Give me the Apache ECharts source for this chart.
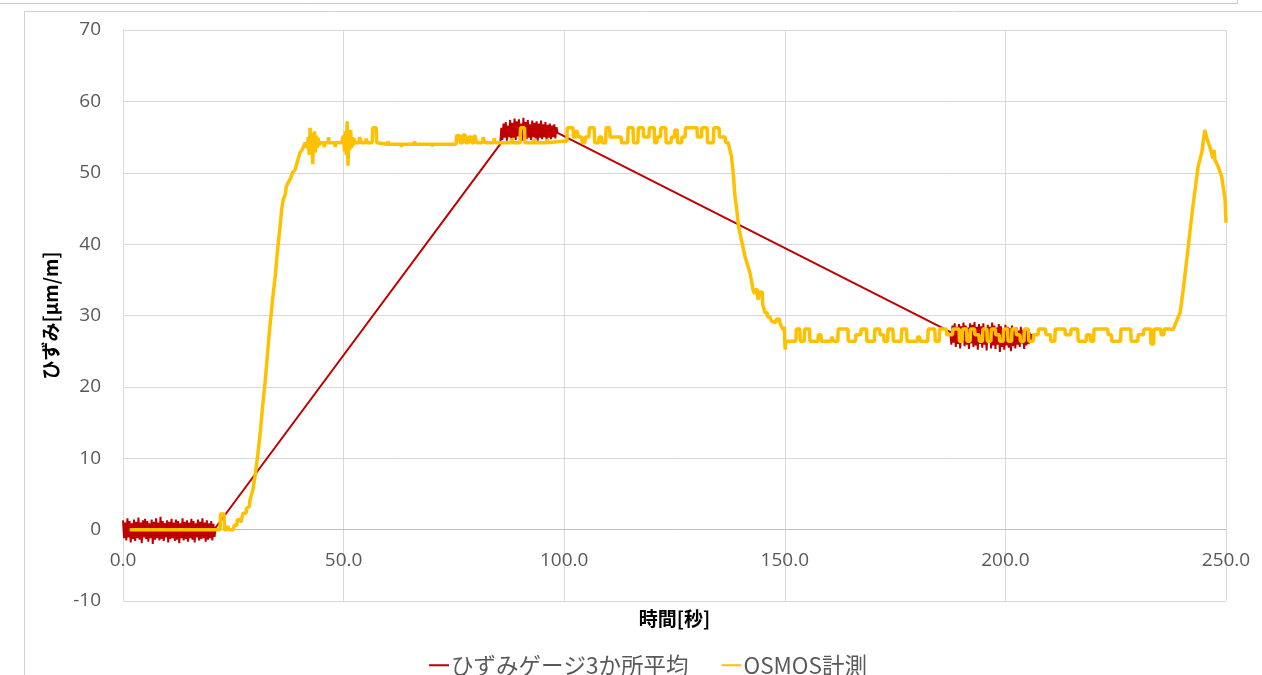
<!DOCTYPE html>
<html>
<head>
<meta charset="utf-8">
<script src="https://cdn.jsdelivr.net/npm/echarts@6/dist/echarts.min.js"></script>
<style>
  html, body { margin: 0; padding: 0; background: #ffffff; }
  #chart { width: 1262px; height: 675px; }
</style>
</head>
<body>
<div id="chart"></div>
<script>
// Strain gauge average (3 locations): sampled every 0.25 s in three recording windows
const gaugeStep = 0.25;
const gaugeStartA = 0;
const gaugeA = [
  1.3,-1.2,1.0,-1.5,1.6,-1.1,1.2,-1.8,0.9,-1.3,
  1.4,-1.6,1.1,-1.2,1.7,-1.4,1.0,-1.9,1.3,-1.1,
  1.5,-1.3,1.2,-1.7,0.9,-1.2,1.4,-2.0,1.1,-1.4,
  1.6,-1.2,1.0,-1.5,1.8,-1.3,1.2,-1.6,0.9,-1.1,
  1.3,-1.8,1.1,-1.3,1.5,-1.2,1.0,-1.6,1.4,-1.4,
  1.2,-1.9,0.9,-1.2,1.6,-1.5,1.1,-1.3,1.3,-1.7,
  1.0,-1.2,1.5,-1.4,1.2,-1.8,0.9,-1.1,1.4,-1.5,
  1.1,-1.3,1.6,-1.2,1.0,-1.7,1.3,-1.4,0.9,-1.2,
  1.2,-1.5,0.8,-1.0,0.3
];
const gaugeStartB = 85.5;
const gaugeB = [
  54.0,56.3,54.6,56.9,54.9,57.1,54.5,56.6,55.0,57.4,
  54.7,57.0,54.9,57.6,54.6,57.2,55.1,57.5,54.8,56.9,
  54.5,57.7,55.0,57.1,54.7,57.4,54.9,56.8,54.6,57.3,
  55.0,57.0,54.8,57.2,54.5,56.9,54.9,57.3,54.7,56.8,
  55.0,57.1,54.6,56.7,54.9,56.9,54.7,56.6,55.0,56.8,
  54.8,56.4,55.6
];
const gaugeStartC = 187.5;
const gaugeC = [
  27.7,25.9,28.6,26.2,28.9,25.6,28.4,26.0,28.8,25.4,
  28.5,26.3,29.0,25.7,28.6,25.9,28.3,25.3,28.9,26.1,
  28.7,25.6,29.1,25.8,28.4,25.2,28.8,26.0,28.5,25.5,
  28.9,25.9,28.2,25.1,28.7,26.2,28.4,25.4,29.0,25.8,
  28.6,25.3,28.3,25.9,28.8,24.9,28.5,25.6,28.1,25.2,
  28.7,25.8,28.4,25.5,28.2,25.0,28.6,25.7,28.0,25.4,
  28.3,25.9,27.9,25.6,28.4,26.1,28.0,25.3,27.8,25.8,
  28.1,26.0,27.6,26.2,27.4,26.6
];

// OSMOS measurement: [time s, strain µm/m]
const osmosPoints = [
  [1.5,0],[22.0,0],[22.1,2.2],[22.9,2.2],[23.0,0],[23.5,0],[23.6,0.5],[24.0,0.5],[24.1,0],[25.0,0],
  [25.2,0.6],[25.8,0.6],[25.9,1.4],[26.6,1.4],[26.7,1.0],[27.0,1.0],[27.2,2.3],[27.9,2.3],[28.0,3.0],[28.6,3.2],
  [28.8,4.2],[29.4,5.5],[29.9,7.4],[30.5,10.2],[31.1,13.6],[31.6,17.0],[32.2,20.6],[32.8,25.0],[33.3,28.5],[33.9,32.2],
  [34.5,35.5],[35.0,39.0],[35.6,42.5],[36.0,45.0],[36.3,46.2],[36.8,47.0],[37.0,48.0],[37.4,48.6],[38.0,49.2],[38.4,50.0],
  [39.0,50.4],[39.5,51.5],[40.1,52.8],[40.6,53.2],[41.3,54.2],
  [41.8,53.5],[42.0,55.0],[42.2,52.5],[42.4,56.3],[42.6,53.0],[42.8,55.5],[43.0,51.2],[43.2,54.8],[43.4,55.8],[43.6,52.8],
  [43.8,55.2],[44.0,53.5],[44.2,54.9],[44.4,53.8],[44.6,54.2],
  [45.5,54.2],[45.6,53.6],[45.7,54.2],[46.5,54.2],[46.6,55.0],[46.7,54.2],[48.0,54.2],[48.1,53.6],[48.2,54.2],[49.5,54.2],
  [50.0,55.2],[50.2,53.0],[50.4,55.8],[50.6,52.5],[50.8,57.2],[51.0,51.0],[51.2,55.5],[51.4,53.2],[51.6,56.0],[51.8,53.5],
  [52.0,55.0],[52.2,53.8],[52.4,54.8],[52.6,54.2],
  [53.5,54.2],[53.6,55.0],[53.9,55.0],[54.0,54.2],[55.0,54.2],[55.1,54.8],[55.3,54.2],[56.5,54.2],[56.6,56.3],[57.4,56.3],
  [57.5,54.2],[60.0,54.0],[60.1,54.4],[60.2,54.0],[63.0,54.0],[63.1,53.6],[63.2,54.0],[66.0,54.0],[66.1,54.4],[66.2,54.0],
  [70.0,54.0],[70.1,53.7],[70.2,54.0],[74.0,54.0],
  [75.5,54.0],[75.6,55.2],[76.3,55.2],[76.4,54.2],[77.0,54.2],[77.1,55.3],[77.6,55.3],[77.7,54.2],[78.3,54.2],[78.4,55.0],
  [79.0,55.0],[79.1,54.2],[79.6,54.2],[79.7,55.3],[80.1,55.3],[80.2,54.2],[81.5,54.2],[81.6,55.0],[81.9,55.0],[82.0,54.2],
  [84.0,54.2],[84.1,54.8],[84.4,54.2],[88.0,54.2],[88.1,54.8],[88.4,54.2],[90.0,54.2],[90.1,56.3],[91.0,56.3],[91.1,54.2],
  [93.0,54.2],[93.1,54.7],[93.3,54.2],[96.0,54.2],[96.1,54.7],[96.3,54.2],[99.5,54.4],
  [100.6,54.4],[100.7,56.3],[102.0,56.3],[102.1,55.0],[102.7,55.0],[102.8,56.0],[103.2,56.0],[103.3,55.0],[104.0,55.0],[104.1,54.2],
  [104.7,54.2],[104.8,55.0],[105.6,55.0],[105.7,56.3],[106.8,56.3],[106.9,54.2],[107.8,54.2],[107.9,55.0],[108.5,55.0],[108.6,54.2],
  [109.4,54.2],[109.5,56.3],[110.3,56.3],[110.4,55.0],[112.9,55.0],[113.0,54.2],[114.4,54.2],[114.5,56.3],[115.6,56.3],[115.7,54.2],
  [116.7,54.2],[116.8,56.3],[117.9,56.3],[118.0,55.0],[119.2,55.0],[119.3,56.3],[120.4,56.3],[120.5,54.2],[121.0,54.2],[121.1,55.0],
  [121.8,55.0],[121.9,56.3],[123.0,56.3],[123.1,54.2],[124.2,54.2],[124.3,55.0],[125.0,55.0],[125.1,56.0],[125.6,56.0],[125.7,54.2],
  [126.6,54.2],[126.7,55.0],[127.4,55.0],[127.5,56.3],[130.1,56.3],[130.2,55.0],[131.1,55.0],[131.2,56.3],[132.4,56.3],[132.5,54.2],
  [133.8,54.2],[133.9,56.3],[135.1,56.3],[135.2,55.0],[136.5,55.0],[136.6,54.2],[137.2,54.2],
  [137.9,52.3],[138.3,50.0],[138.7,46.7],[139.2,44.4],[139.5,42.5],[140.3,40.2],[141.0,38.2],[142.1,36.0],[142.8,33.6],[143.2,33.0],
  [143.3,33.6],[143.8,33.6],[143.9,32.2],[144.3,32.2],[144.4,33.3],[144.9,33.3],[145.0,31.5],[145.5,30.4],[146.0,30.4],[146.1,29.8],
  [146.6,29.8],[147.0,29.2],[147.4,29.0],[148.0,29.0],[148.1,29.5],[148.8,29.5],[148.9,28.9],[149.6,28.0],[149.9,28.4],[150.0,26.2],
  [150.1,25.2],[150.2,26.4],
  [152.5,26.4],[152.6,28.1],[153.4,28.1],[153.5,26.4],[154.4,26.4],[154.5,28.1],[155.6,28.1],[155.7,26.4],[157.5,26.4],[157.6,27.3],
  [158.2,27.3],[158.3,26.4],[160.5,26.4],[160.6,27.0],[161.0,27.0],[161.1,26.4],[162.0,26.4],[162.1,28.1],[164.3,28.1],[164.4,26.4],
  [166.0,26.4],[166.1,27.3],[167.2,27.3],[167.3,28.1],[168.5,28.1],[168.6,26.4],[170.3,26.4],[170.4,28.1],[171.5,28.1],[171.6,27.3],
  [172.4,27.3],[172.5,26.4],[173.3,26.4],[173.4,28.1],[174.5,28.1],[174.6,26.4],[176.4,26.4],[176.5,28.1],[177.6,28.1],[177.7,26.4],
  [180.0,26.4],[180.1,27.0],[180.6,27.0],[180.7,26.4],[182.4,26.4],[182.5,28.1],[184.0,28.1],[184.1,26.4],[185.0,26.4],[185.1,28.1],
  [186.6,28.1],[186.7,27.3],[188.0,27.3],[188.1,28.1],[189.5,28.1],[189.6,26.4],[190.2,26.4],[190.3,28.1],[191.2,28.1],[191.3,26.4],
  [192.0,26.4],[192.1,28.1],[193.0,28.1],[193.1,27.3],[194.0,27.3],[194.1,26.4],[194.8,26.4],[194.9,28.1],[195.8,28.1],[195.9,26.4],
  [196.7,26.4],[196.8,28.1],[197.7,28.1],[197.8,27.3],[198.6,27.3],[198.7,26.4],[199.5,26.4],[199.6,28.1],[200.5,28.1],[200.6,26.4],
  [201.4,26.4],[201.5,28.1],[202.4,28.1],[202.5,27.3],[203.3,27.3],[203.4,26.4],[204.2,26.4],[204.3,28.1],[205.2,28.1],[205.3,26.4],
  [206.3,26.4],[206.4,27.3],[207.4,27.3],[207.5,28.1],[209.1,28.1],[209.2,27.3],[210.2,27.3],[210.3,26.4],[211.2,26.4],[211.3,28.1],
  [213.5,28.1],[213.6,27.3],[214.8,27.3],[214.9,28.1],[216.4,28.1],[216.5,26.4],[218.3,26.4],[218.4,27.3],[219.2,27.3],[219.3,26.4],
  [220.0,26.4],[220.1,28.1],[223.2,28.1],[223.3,27.3],[224.0,27.3],[224.1,26.4],[226.1,26.4],[226.2,28.1],[228.4,28.1],[228.5,26.4],
  [230.0,26.4],[230.1,27.3],[231.3,27.3],[231.4,28.1],[232.9,28.1],[233.0,26.0],[233.6,26.0],[233.7,28.1],[235.2,28.1],[235.3,27.3],
  [235.9,27.3],[236.0,28.1],[237.5,28.1],[238.0,28.0],[238.9,29.4],[239.6,30.4],[240.3,33.6],[241.1,37.8],[241.8,41.6],[242.4,44.8],
  [243.2,48.6],[243.7,50.9],[244.5,52.8],[245.2,56.0],[245.6,55.0],[246.0,54.2],[246.4,53.5],[246.7,52.8],[247.0,52.0],[247.3,53.2],
  [247.5,51.8],[248.2,50.9],[249.0,49.5],[249.8,46.2],[250.0,43.0]
];

const seriesNames = ['ひずみゲージ3か所平均', 'OSMOS計測'];
const xAxisTitle = '時間[秒]';
const yAxisTitle = 'ひずみ[μm/m]';

// Build [time, value] pairs for each gauge window; gaps are bridged by the line
function windowPairs(start, values) {
  return values.map((v, i) => [+(start + i * gaugeStep).toFixed(2), v]);
}
const gaugePoints = [].concat(
  windowPairs(gaugeStartA, gaugeA),
  windowPairs(gaugeStartB, gaugeB),
  windowPairs(gaugeStartC, gaugeC)
);

const tickFont = "'Open Sans', 'Noto Sans CJK JP', sans-serif";
const cjkFont = "'Noto Sans CJK JP', sans-serif";
const chart = echarts.init(document.getElementById('chart'), null, { renderer: 'canvas' });

chart.setOption({
  animation: false,
  backgroundColor: '#ffffff',
  grid: { left: 123, right: 36, top: 30, bottom: 74, containLabel: false, outerBoundsMode: 'none' },
  legend: {
    left: 424,
    top: 649,
    itemGap: 33,
    itemWidth: 20,
    itemHeight: 2,
    icon: 'rect',
    textStyle: { color: '#595959', fontSize: 22.5, fontFamily: cjkFont, padding: [0, 0, 0, -3] },
    data: seriesNames
  },
  xAxis: {
    type: 'value',
    min: 0,
    max: 250,
    interval: 50,
    name: xAxisTitle,
    nameLocation: 'middle',
    nameGap: 8,
    nameTextStyle: { color: '#000000', fontSize: 19, fontWeight: 'bold', fontFamily: cjkFont },
    axisLine: { onZero: true, lineStyle: { color: '#BFBFBF', width: 1 } },
    axisTick: { show: false },
    axisLabel: {
      color: '#595959', fontSize: 19, fontFamily: tickFont, margin: -50,
      formatter: v => v.toFixed(1)
    },
    splitLine: { show: true, lineStyle: { color: '#D9D9D9', width: 1 } }
  },
  yAxis: {
    type: 'value',
    min: -10,
    max: 70,
    interval: 10,
    name: yAxisTitle,
    nameLocation: 'middle',
    nameGap: 63,
    nameRotate: 90,
    nameTextStyle: { color: '#000000', fontSize: 19, fontWeight: 'bold', fontFamily: cjkFont },
    axisLine: { show: true, lineStyle: { color: '#D9D9D9', width: 1 } },
    axisTick: { show: false },
    axisLabel: { color: '#595959', fontSize: 19, fontFamily: tickFont, margin: 22 },
    splitLine: { show: true, lineStyle: { color: '#D9D9D9', width: 1 } }
  },
  graphic: [
    { type: 'line', shape: { x1: 0, y1: 3.5, x2: 1237.5, y2: 3.5 }, style: { stroke: '#C8C8C8', lineWidth: 1 } },
    { type: 'line', shape: { x1: 1237.5, y1: 0, x2: 1237.5, y2: 3.5 }, style: { stroke: '#C8C8C8', lineWidth: 1 } },
    { type: 'line', shape: { x1: 24.5, y1: 11.5, x2: 1262, y2: 11.5 }, style: { stroke: '#D0D0D0', lineWidth: 1 } },
    { type: 'line', shape: { x1: 24.5, y1: 11.5, x2: 24.5, y2: 675 }, style: { stroke: '#D0D0D0', lineWidth: 1 } }
  ],
  series: [
    {
      name: seriesNames[0],
      type: 'line',
      data: gaugePoints,
      showSymbol: false,
      symbol: 'none',
      color: '#C00000',
      lineStyle: { color: '#C00000', width: 2 },
      z: 2
    },
    {
      name: seriesNames[1],
      type: 'line',
      data: osmosPoints,
      showSymbol: false,
      symbol: 'none',
      color: '#FFC000',
      lineStyle: { color: '#FFC000', width: 3.5 },
      z: 3
    }
  ]
});
</script>
</body>
</html>
